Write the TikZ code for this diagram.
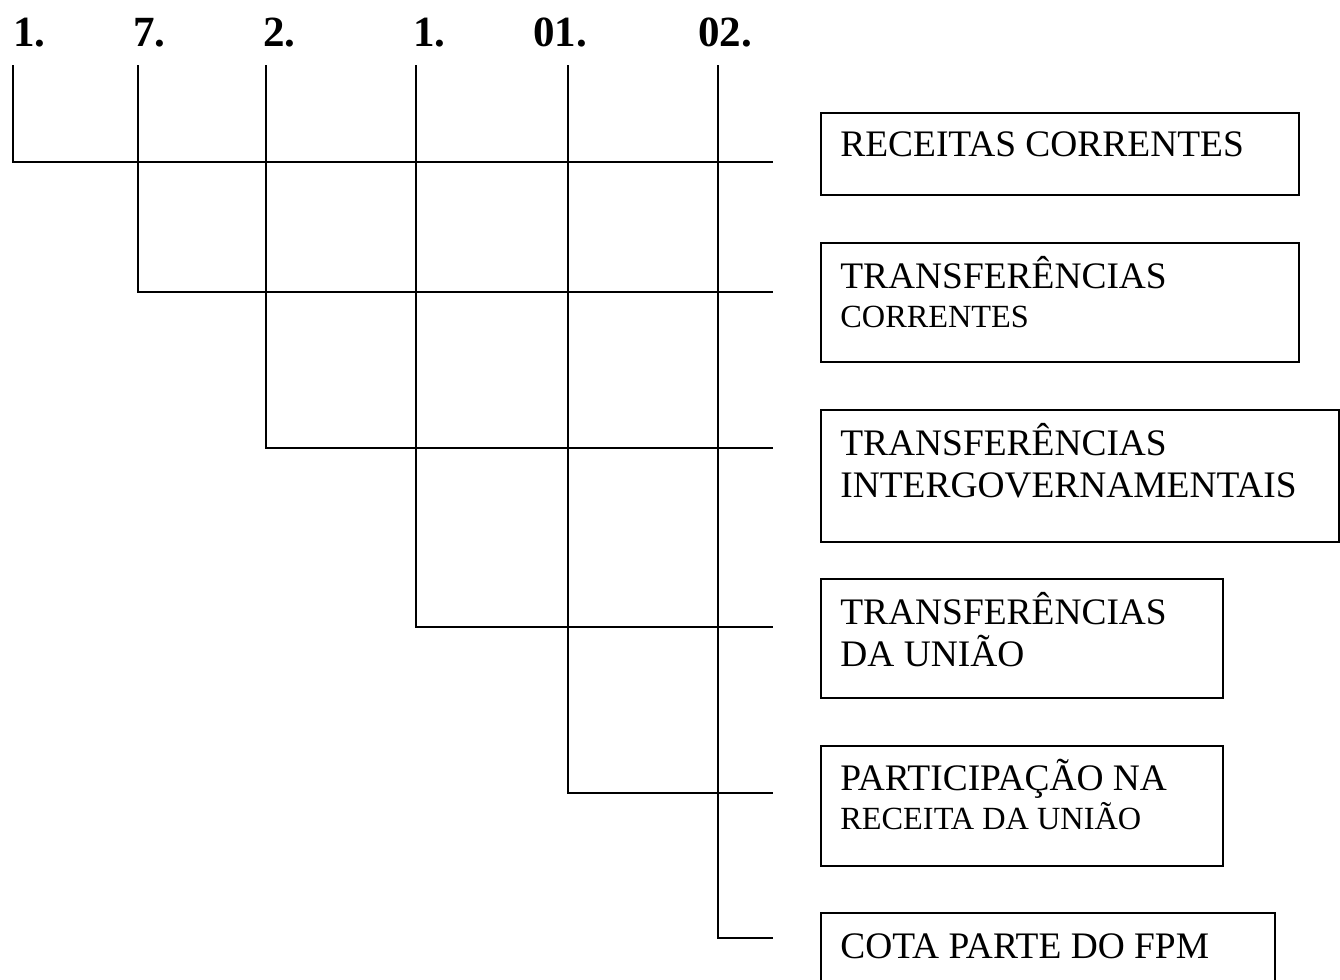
\documentclass[tikz,border=0pt]{standalone}
\usepackage{fontspec}
\setmainfont{Liberation Serif}
\usetikzlibrary{positioning}

\tikzset{
    ramo/.style={line width=1.4pt, line cap=rect},
    caixa/.style={draw, line width=1.3pt, anchor=north west, inner sep=0pt},
    texto/.style={anchor=base west, inner sep=0pt, align=left,
        font=\fontsize{21.3pt}{23.9pt}\selectfont},
    codigo/.style={anchor=base west, inner sep=0pt,
        font=\fontsize{24.5pt}{28pt}\selectfont\bfseries}
}
\newcommand{\menor}{\fontsize{18.4pt}{21pt}\selectfont}

\begin{document}
\begin{tikzpicture}[x=0.02cm, y=-0.02cm]
    \useasboundingbox (0,0) rectangle (1340,980);

    % digitos do codigo
    \foreach \i/\x/\txt in {1/13/1., 2/133/7., 3/263/2., 4/413/1., 5/533/01., 6/698/02.} {
        \node[codigo] (n\i) at (\x,47) {\txt};
    }

    % linhas de cada nivel
    \foreach \i/\x/\y in {1/13/162, 2/138/292, 3/266/448, 4/416/627, 5/568/793, 6/718/938} {
        \coordinate (t\i) at (\x,66);
        \coordinate (e\i) at (772,\y);
        \draw[ramo] (t\i) |- (e\i);
    }

    % caixas
    \node[caixa, minimum width=9.56cm, minimum height=1.64cm] (b1) at (820,112) {};
    \node[caixa, minimum width=9.56cm, minimum height=2.38cm] (b2) at (820,242) {};
    \node[caixa, minimum width=10.36cm, minimum height=2.64cm] (b3) at (820,409) {};
    \node[caixa, minimum width=8.04cm, minimum height=2.38cm] (b4) at (820,578) {};
    \node[caixa, minimum width=8.04cm, minimum height=2.40cm] (b5) at (820,745) {};
    \node[caixa, minimum width=9.08cm, minimum height=1.70cm] (b6) at (820,912) {};

    % texto (base da ultima linha)
    \node[texto] (r1) at (840,156) {RECEITAS CORRENTES};
    \node[texto] (r2) at (840,327) {TRANSFERÊNCIAS\\[-2pt]{\menor CORRENTES}};
    \node[texto] (r3) at (840,497) {TRANSFERÊNCIAS\\INTERGOVERNAMENTAIS};
    \node[texto] (r4) at (840,666) {TRANSFERÊNCIAS\\DA UNIÃO};
    \node[texto] (r5) at (840,829) {PARTICIPAÇÃO NA\\[-2pt]{\menor RECEITA DA UNIÃO}};
    \node[texto] (r6) at (840,958) {COTA PARTE DO FPM};
\end{tikzpicture}
\end{document}
